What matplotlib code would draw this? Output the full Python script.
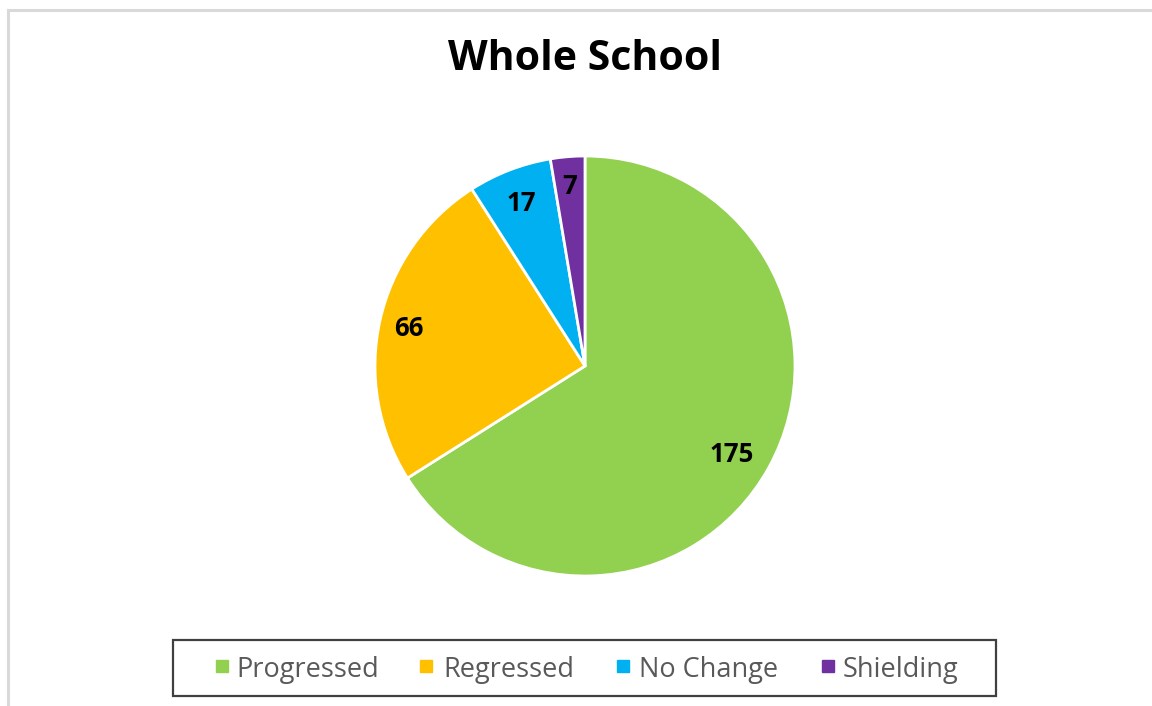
import matplotlib
matplotlib.use("Agg")
import matplotlib.pyplot as plt
from matplotlib.patches import Rectangle
from matplotlib.lines import Line2D
import numpy as np

plt.rcParams['font.family'] = ['Open Sans', 'DejaVu Sans']

categories = ["Progressed", "Regressed", "No Change", "Shielding"]
values = [175, 66, 17, 7]
colors = ["#92D050", "#FFC000", "#00B0F0", "#7030A0"]
title = "Whole School"

W, H = 1152, 706
fig = plt.figure(figsize=(W / 100, H / 100), dpi=100)

# outer chart border (light gray)
fig.patches.append(Rectangle((8 / W, -0.1), 1.2, (H - 10) / H + 0.1, transform=fig.transFigure,
                             fill=False, edgecolor="#d9d9d9", linewidth=2.2))

# pie axes: centre (585, 366) px from top, radius 210 px
cx, cy, r = 585, H - 366, 210
ax = fig.add_axes([(cx - r) / W, (cy - r) / H, 2 * r / W, 2 * r / H])
wedges, _ = ax.pie(values, colors=colors, startangle=90, counterclock=False,
                   radius=1.0, wedgeprops=dict(edgecolor="white", linewidth=2))
ax.set_xlim(-1, 1)
ax.set_ylim(-1, 1)
ax.set_aspect("equal")
ax.axis("off")

# data labels inside each wedge
label_dist = [0.81, 0.86, 0.84, 0.87]
label_shift = [-1.5, 0, 0, 0]  # degrees
for w, v, d, s in zip(wedges, values, label_dist, label_shift):
    ang = np.deg2rad((w.theta1 + w.theta2) / 2 + s)
    ax.annotate(str(v), (d * np.cos(ang), d * np.sin(ang)), xytext=(0, -1.5),
                textcoords="offset points", ha="center", va="center",
                fontsize=18.5, fontweight="bold", color="black")

fig.text(585 / W, 1 - 59 / H, title, ha="center", va="center",
         fontsize=29.5, fontweight="bold", color="black")

# legend box
fig.patches.append(Rectangle((173 / W, (H - 696) / H), (996 - 173) / W, 56 / H,
                             transform=fig.transFigure, fill=False,
                             edgecolor="#404040", linewidth=1.6))
marker_x = [222, 426, 623, 828]
text_x = [236, 443, 639, 843]
ly = (H - 666) / H
for c, name, mx, tx in zip(colors, categories, marker_x, text_x):
    fig.add_artist(Line2D([mx / W], [ly], marker="s", linestyle="none", markersize=8.5,
                          markerfacecolor=c, markeredgecolor=c,
                          transform=fig.transFigure))
    fig.text(tx / W, ly, name, ha="left", va="center_baseline", fontsize=19.5,
             color="#595959")

fig.savefig("out.png", dpi=100)
